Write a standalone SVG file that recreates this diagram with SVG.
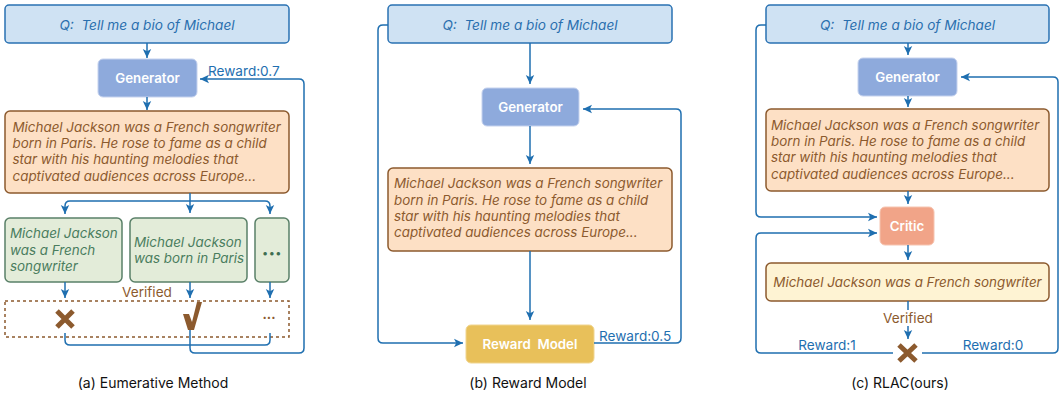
<svg xmlns="http://www.w3.org/2000/svg" width="1060" height="394" viewBox="0 0 1060 394">
<defs>
<marker id="arr" markerUnits="userSpaceOnUse" markerWidth="10" markerHeight="10" viewBox="0 0 10 10" refX="9" refY="5" orient="auto">
<path d="M0,0.8 L9,5 L0,9.2 L2.2,5 Z" fill="#1f6fb0"/>
</marker>
<style>
text{font-family:Inter,"Liberation Sans",sans-serif}
.q{fill:#cfe2f3;stroke:#2a72b3;stroke-width:1.5}
.qt{fill:#2a6fae;font-size:13.6px;font-style:italic;text-anchor:middle}
.gen{fill:#8eaadc;stroke:#c5d2ee;stroke-width:1}
.wt{fill:#fff;font-size:13.3px;font-weight:600;text-anchor:middle}
.ans{fill:#fde0c5;stroke:#8c5a2e;stroke-width:1.5}
.at{fill:#8c5a2e;font-size:13.4px;font-style:italic}
.grn{fill:#e3ecd9;stroke:#5a8068;stroke-width:1.5}
.gt{fill:#4a7d5e;font-size:13.4px;font-style:italic}
.cn{fill:none;stroke:#1f6fb0;stroke-width:1.5}
.ca{fill:none;stroke:#1f6fb0;stroke-width:1.5;marker-end:url(#arr)}
.bl{fill:#1f6fb0;font-size:13.6px}
.br{fill:#8c5a2e;font-size:13.6px}
.mk{fill:none;stroke:#8c5a2e;stroke-width:5}
.cap{fill:#111;font-size:14px;text-anchor:middle}
</style>
</defs>

<!-- Panel (a) -->
<g id="a-question"><rect class="q" x="5" y="5" width="284" height="38" rx="4"/><text class="qt" x="147" y="29.5" xml:space="preserve">Q:  Tell me a bio of Michael</text></g>
<g id="a-generator"><rect class="gen" x="98" y="59" width="99" height="38" rx="5"/><text class="wt" x="147.5" y="82.5">Generator</text></g>
<g id="a-answer"><rect class="ans" x="5" y="111" width="284" height="82" rx="5"/>
<text class="at" x="12.5" y="131.5">Michael Jackson was a French songwriter</text>
<text class="at" x="12.5" y="148">born in Paris. He rose to fame as a child</text>
<text class="at" x="12.5" y="164">star with his haunting melodies that</text>
<text class="at" x="12.5" y="180.5">captivated audiences across Europe...</text></g>
<g id="a-claim1"><rect class="grn" x="5" y="218" width="117" height="64" rx="5"/>
<text class="gt" x="10" y="238">Michael Jackson</text><text class="gt" x="10" y="254.5">was a French</text><text class="gt" x="10" y="271">songwriter</text></g>
<g id="a-claim2"><rect class="grn" x="130" y="218" width="117" height="64" rx="5"/>
<text class="gt" x="134" y="246.5">Michael Jackson</text><text class="gt" x="134" y="263">was born in Paris</text></g>
<g id="a-claim3"><rect class="grn" x="255" y="218" width="34" height="64" rx="5"/>
<text x="272" y="257" style="fill:#3f6e52;font-size:11px;text-anchor:middle;letter-spacing:0.5px">•••</text></g>
<g id="a-verified">
<text class="br" x="147" y="297" text-anchor="middle">Verified</text>
<rect x="5" y="301" width="284" height="36" fill="none" stroke="#8c5a2e" stroke-width="1.5" stroke-dasharray="3,3"/>
<path class="mk" d="M57,311 L73,327 M73,311 L57,327"/>
<path d="M183,314 L189,314 L192,322 L197,302 L202,302 L194,330 L188,330 Z" fill="#8c5a2e"/>
<text x="269" y="322" style="fill:#8c5a2e;font-size:13px;text-anchor:middle;font-weight:bold">···</text>
</g>
<g id="a-connectors">
<path class="ca" d="M147,43 V58"/>
<path class="ca" d="M147,97 V110"/>
<path class="ca" d="M190,193 V213"/>
<path class="ca" d="M190,201 H70 Q65,201 65,206 V214"/>
<path class="ca" d="M190,201 H265 Q270,201 270,206 V214"/>
<path class="ca" d="M65,282 V298"/>
<path class="ca" d="M190,282 V298"/>
<path class="ca" d="M270,282 V298"/>
<path class="cn" d="M65,333 V340 Q65,345 70,345 H265 Q270,345 270,340 V333"/>
<path class="ca" d="M190,330 V348 Q190,353 195,353 H299 Q304,353 304,348 V84 Q304,79 299,79 H200"/>
<text class="bl" x="208" y="75.5">Reward:0.7</text>
</g>
<text class="cap" x="153" y="388">(a) Eumerative Method</text>

<!-- Panel (b) -->
<g id="b-question"><rect class="q" x="388" y="5" width="284" height="38" rx="4"/><text class="qt" x="530" y="29.5" xml:space="preserve">Q:  Tell me a bio of Michael</text></g>
<g id="b-generator"><rect class="gen" x="482" y="88" width="97" height="38" rx="5"/><text class="wt" x="530.5" y="111.5">Generator</text></g>
<g id="b-answer"><rect class="ans" x="388" y="168" width="284" height="83" rx="5"/>
<text class="at" x="394" y="188">Michael Jackson was a French songwriter</text>
<text class="at" x="394" y="204.5">born in Paris. He rose to fame as a child</text>
<text class="at" x="394" y="220.5">star with his haunting melodies that</text>
<text class="at" x="394" y="237">captivated audiences across Europe...</text></g>
<g id="b-reward-model"><rect x="466" y="325" width="128" height="38" rx="5" fill="#e8c05a" stroke="#f0d590" stroke-width="1"/><text class="wt" x="530" y="348.5" xml:space="preserve">Reward  Model</text></g>
<g id="b-connectors">
<path class="ca" d="M388,25 H383 Q378,25 378,30 V338 Q378,343 383,343 H463"/>
<path class="ca" d="M530,43 V84"/>
<path class="ca" d="M530,126 V164"/>
<path class="ca" d="M530,251 V320"/>
<path class="ca" d="M594,343 H676 Q681,343 681,338 V114 Q681,109 676,109 H583"/>
<text class="bl" x="599" y="340.5">Reward:0.5</text>
</g>
<text class="cap" x="528" y="388">(b) Reward Model</text>

<!-- Panel (c) -->
<g id="c-question"><rect class="q" x="766" y="5" width="283" height="38" rx="4"/><text class="qt" x="907.5" y="29.5" xml:space="preserve">Q:  Tell me a bio of Michael</text></g>
<g id="c-generator"><rect class="gen" x="858" y="58" width="99" height="38" rx="5"/><text class="wt" x="907.5" y="81.5">Generator</text></g>
<g id="c-answer"><rect class="ans" x="766" y="109" width="283" height="82" rx="5"/>
<text class="at" x="771" y="129.5">Michael Jackson was a French songwriter</text>
<text class="at" x="771" y="146">born in Paris. He rose to fame as a child</text>
<text class="at" x="771" y="162">star with his haunting melodies that</text>
<text class="at" x="771" y="178.5">captivated audiences across Europe...</text></g>
<g id="c-critic"><rect x="880" y="207" width="54" height="38" rx="5" fill="#f1a488" stroke="#f6c4b0" stroke-width="1"/><text class="wt" x="907" y="230.5">Critic</text></g>
<g id="c-claim"><rect x="766" y="263" width="283" height="38" rx="5" fill="#fef3d3" stroke="#8c5a2e" stroke-width="1.5"/>
<text class="at" x="907.5" y="287" text-anchor="middle">Michael Jackson was a French songwriter</text></g>
<g id="c-verdict">
<text class="br" x="908" y="323" text-anchor="middle">Verified</text>
<path class="mk" d="M899,345 L916,361 M916,345 L899,361"/>
</g>
<g id="c-connectors">
<path class="ca" d="M766,25 H761 Q756,25 756,30 V212 Q756,217 761,217 H877"/>
<path class="ca" d="M908,43 V55"/>
<path class="ca" d="M908,96 V107"/>
<path class="ca" d="M908,191 V204"/>
<path class="ca" d="M908,245 V260"/>
<path class="cn" d="M908,301 V310"/>
<path class="ca" d="M908,326 V339"/>
<path class="ca" d="M893,353 H761 Q756,353 756,348 V238 Q756,233 761,233 H877"/>
<path class="ca" d="M922,353 H1053 Q1058,353 1058,348 V82 Q1058,77 1053,77 H961"/>
<text class="bl" x="827" y="349.5" text-anchor="middle">Reward:1</text>
<text class="bl" x="993" y="349.5" text-anchor="middle">Reward:0</text>
</g>
<text class="cap" x="900" y="388">(c) RLAC(ours)</text>
</svg>
